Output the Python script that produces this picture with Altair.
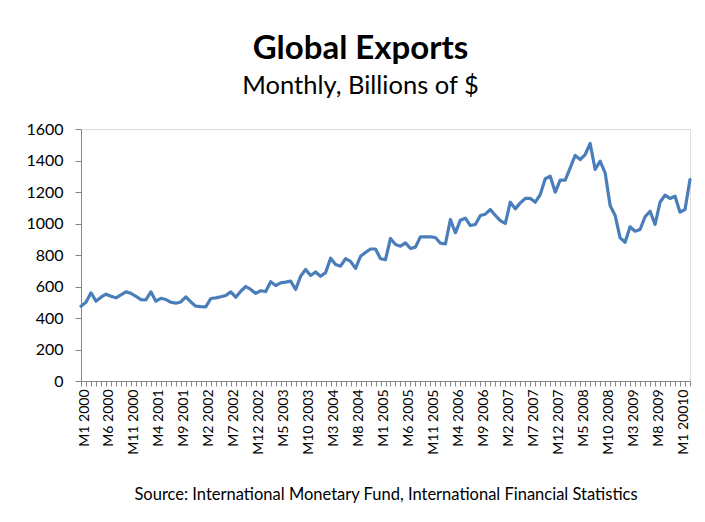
import json
import altair as alt
import pandas as pd

# Monthly global exports, billions of $ (M1 2000 .. M3 2010)
exports_2000 = [475, 500, 560, 507, 532, 551, 538, 528, 547, 566, 557, 538]
exports_2001 = [517, 515, 566, 507, 525, 517, 500, 494, 502, 534, 502, 475]
exports_2002 = [472, 471, 524, 528, 535, 543, 566, 532, 570, 600, 581, 556]
exports_2003 = [573, 568, 630, 606, 623, 628, 634, 581, 666, 708, 670, 692]
exports_2004 = [665, 688, 780, 740, 729, 777, 760, 715, 792, 816, 838, 838]
exports_2005 = [776, 771, 905, 867, 856, 877, 841, 850, 916, 915, 915, 911]
exports_2006 = [875, 870, 1025, 941, 1021, 1034, 987, 994, 1051, 1059, 1089, 1051]
exports_2007 = [1019, 1000, 1135, 1093, 1131, 1159, 1160, 1135, 1184, 1284, 1300, 1199]
exports_2008 = [1275, 1275, 1353, 1432, 1406, 1438, 1508, 1343, 1396, 1322, 1114, 1051]
exports_2009 = [909, 881, 979, 951, 962, 1043, 1078, 994, 1135, 1180, 1159, 1173]
exports_2010 = [1072, 1089, 1279]

tick_labels = ["M1 2000", "M6 2000", "M11 2000", "M4 2001", "M9 2001", "M2 2002",
               "M7 2002", "M12 2002", "M5 2003", "M10 2003", "M3 2004", "M8 2004",
               "M1 2005", "M6 2005", "M11 2005", "M4 2006", "M9 2006", "M2 2007",
               "M7 2007", "M12 2007", "M5 2008", "M10 2008", "M3 2009", "M8 2009",
               "M1 20010"]

values = (exports_2000 + exports_2001 + exports_2002 + exports_2003 + exports_2004 +
          exports_2005 + exports_2006 + exports_2007 + exports_2008 + exports_2009 +
          exports_2010)
n = len(values)
df = pd.DataFrame({"idx": list(range(n)), "exports": values})

FONT = "Lato"
AXIS_COLOR = "#868686"
label_expr = ("datum.value % 5 == 0 ? " + json.dumps(tick_labels) +
              "[datum.value / 5] : ''")

chart = alt.Chart(df).mark_line(
    color="#4A7EBB", strokeWidth=3.2, strokeJoin="round", strokeCap="round"
).encode(
    x=alt.X("idx:Q",
            scale=alt.Scale(domain=[0, n - 1], nice=False, zero=False),
            axis=alt.Axis(
                values=list(range(n)), labelExpr=label_expr, labelAngle=-90,
                labelOverlap=False, labelFontSize=14, labelFont=FONT,
                labelColor="black", labelPadding=3, labelOffset=3,
                tickSize=5, tickColor=AXIS_COLOR, domainColor=AXIS_COLOR,
                grid=False,
                title="Source: International Monetary Fund, International Financial Statistics",
                titleFont=FONT, titleFontSize=16.5, titleFontWeight="normal",
                titleColor="black", titlePadding=32)),
    y=alt.Y("exports:Q",
            scale=alt.Scale(domain=[0, 1600], nice=False),
            axis=alt.Axis(values=list(range(0, 1601, 200)), format="d",
                          labelFontSize=16, labelFont=FONT, labelColor="black",
                          labelPadding=12, tickSize=6, tickColor=AXIS_COLOR,
                          domainColor=AXIS_COLOR, grid=False, title=None)),
).properties(
    width=609,
    height=252,
    autosize="none",
    padding={"left": 73, "top": 121, "right": 7, "bottom": 133},
    title=alt.TitleParams(
        text="Global Exports", subtitle="Monthly, Billions of $",
        font=FONT, fontSize=33, fontWeight="bold", color="black",
        subtitleFont=FONT, subtitleFontSize=25.5, subtitleColor="black",
        subtitlePadding=8, anchor="middle", dx=-25, offset=22),
).configure_view(stroke=None).configure(background="white")

chart.save("out.html", embed_options={"renderer": "svg", "actions": False})
